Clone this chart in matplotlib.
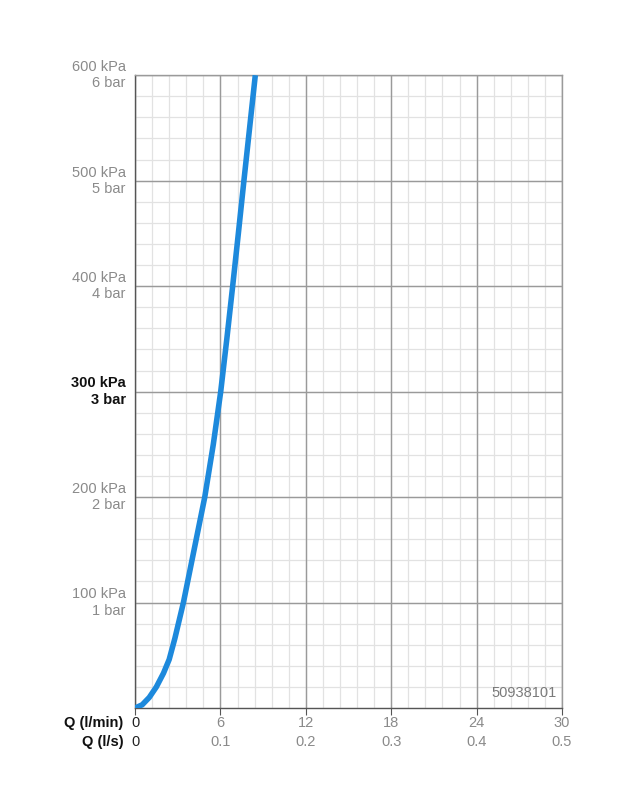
"""Flow curve chart: pressure vs flow rate."""
import numpy as np
import matplotlib
matplotlib.use('Agg')
import matplotlib.pyplot as plt

plt.rcParams['font.family'] = ['Liberation Sans', 'DejaVu Sans']

# curve (l/min, kPa)
flow_lpm = [0, 0.5, 1.0, 1.5, 2.0, 2.4, 2.8, 3.4, 4.15, 4.9, 5.5, 6.02, 6.45, 6.86, 7.26, 7.65, 8.05, 8.45]
pressure_kpa = [0, 3, 10, 20, 33, 46, 66, 100, 150, 200, 250, 300, 350, 400, 450, 500, 550, 600]

x_ticks = [0, 6, 12, 18, 24, 30]
x_lps = ['0', '0.1', '0.2', '0.3', '0.4', '0.5']
y_ticks = [100, 200, 300, 400, 500, 600]
y_labels = ['100 kPa\n1 bar', '200 kPa\n2 bar', '300 kPa\n3 bar',
            '400 kPa\n4 bar', '500 kPa\n5 bar', '600 kPa\n6 bar']
code = '50938101'

gray_txt = '#8a8a8a'
fig = plt.figure(figsize=(6.28, 8), dpi=100)
ax = fig.add_axes([0.215, 0.115, 0.68, 0.791])

ax.set_xlim(0, 30)
ax.set_ylim(0, 600)

# minor / major grid
for xv in np.arange(0, 30.01, 1.2):
    ax.axvline(xv, color='#e2e2e2', lw=0.9, zorder=1)
for yv in np.arange(0, 600.01, 20):
    ax.axhline(yv, color='#e2e2e2', lw=0.9, zorder=1)
for xv in x_ticks:
    ax.axvline(xv, color='#9a9a9a', lw=1.0, zorder=2)
for yv in y_ticks:
    ax.axhline(yv, color='#9a9a9a', lw=1.0, zorder=2)

ax.plot(flow_lpm, pressure_kpa, color='#1d89dc', lw=4.0, solid_capstyle='butt',
        solid_joinstyle='round', zorder=5)

for s in ax.spines.values():
    s.set_color('#9a9a9a')
    s.set_linewidth(1.0)
ax.spines['left'].set_color('#555555')
ax.spines['bottom'].set_color('#555555')

ax.set_xticks(x_ticks)
ax.set_xticklabels([])
ax.set_yticks([])
ax.tick_params(axis='x', direction='out', length=5, color='#555555')

# y labels
for yv, lab in zip(y_ticks, y_labels):
    bold = yv == 300
    ax.text(-0.65, yv, lab, ha='right', va='center', fontsize=10.5, linespacing=1.2,
            color='#111111' if bold else gray_txt,
            fontweight='bold' if bold else 'normal')

# x labels, two rows
tr = ax.get_xaxis_transform()
for xv, lp in zip(x_ticks, x_lps):
    c = '#222222' if xv == 0 else gray_txt
    ax.text(xv, -0.024, str(xv), transform=tr, ha='center', va='center', fontsize=10.5, color=c)
    ax.text(xv, -0.053, lp, transform=tr, ha='center', va='center', fontsize=10.5, color=c)
ax.text(-0.8, -0.024, 'Q (l/min)', transform=tr, ha='right', va='center',
        fontsize=10.5, fontweight='bold', color='#111111')
ax.text(-0.8, -0.053, 'Q (l/s)', transform=tr, ha='right', va='center',
        fontsize=10.5, fontweight='bold', color='#111111')

ax.text(0.988, 0.013, code, transform=ax.transAxes, ha='right', va='bottom',
        fontsize=10.5, color='#7a7a7a', zorder=6)

plt.savefig('out.png', dpi=100)
plt.close()
